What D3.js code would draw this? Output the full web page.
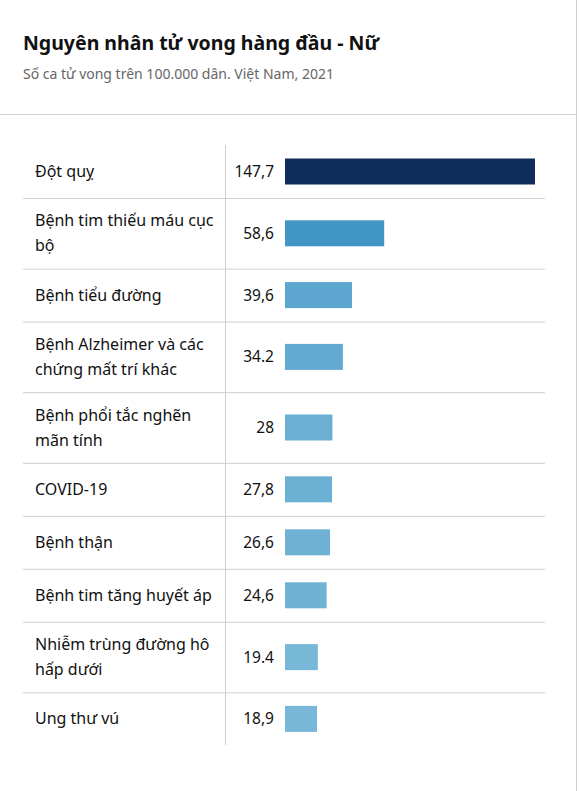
<!DOCTYPE html>
<html>
<head>
<meta charset="utf-8">
<script src="https://cdn.jsdelivr.net/npm/d3@7"></script>
<style>
  body { margin: 0; background: #fff; font-family: "Noto Sans", sans-serif; }
  svg { display: block; }
</style>
</head>
<body>
<svg id="chart" width="580" height="791"></svg>
<script>
// data
var causes = [
    "Đột quỵ",
    "Bệnh tim thiếu máu cục bộ",
    "Bệnh tiểu đường",
    "Bệnh Alzheimer và các chứng mất trí khác",
    "Bệnh phổi tắc nghẽn mãn tính",
    "COVID-19",
    "Bệnh thận",
    "Bệnh tim tăng huyết áp",
    "Nhiễm trùng đường hô hấp dưới",
    "Ung thư vú"
]
var rates = [147.7, 58.6, 39.6, 34.2, 28, 27.8, 26.6, 24.6, 19.4, 18.9]
// labels as printed (mixed decimal marks in the original)
var rateLabels = ["147,7", "58,6", "39,6", "34.2", "28", "27,8", "26,6", "24,6", "19.4", "18,9"]

var title = "Nguyên nhân tử vong hàng đầu - Nữ"
var subtitle = "Số ca tử vong trên 100.000 dân. Việt Nam, 2021"

var svg = d3.select("#chart")

// header
svg.append("text")
    .attr("x", 23).attr("y", 50)
    .attr("font-size", 19.5).attr("font-weight", 700)
    .attr("fill", "#111")
    .text(title)
svg.append("text")
    .attr("x", 23).attr("y", 79)
    .attr("font-size", 14)
    .attr("fill", "#666")
    .text(subtitle)

svg.append("line")
    .attr("x1", 0).attr("x2", 576)
    .attr("y1", 114.5).attr("y2", 114.5)
    .attr("stroke", "#d0d0d0")
svg.append("line")
    .attr("x1", 576.5).attr("x2", 576.5)
    .attr("y1", 0).attr("y2", 791)
    .attr("stroke", "#d0d0d0")

var tableLeft = 23, tableRight = 545, divX = 225.5
var labelX = 35, wrapW = 186, lineH = 25, pad = 14
var tableTop = 145

// wrap labels first, row heights follow the line count
var meas = svg.append("text").attr("font-size", 16).attr("visibility", "hidden")
var rows = causes.map((c, i) => {
    var words = c.split(" "), lines = [], cur = ""
    words.forEach(w => {
        var test = cur ? cur + " " + w : w
        meas.text(test)
        if (meas.node().getComputedTextLength() > wrapW && cur) {
            lines.push(cur)
            cur = w
        } else {
            cur = test
        }
    })
    lines.push(cur)
    return { cause: c, value: rates[i], label: rateLabels[i], lines: lines }
})
meas.remove()

var y0 = tableTop
rows.forEach(r => {
    r.h = r.lines.length > 1 ? 70.6 : 53
    r.y = y0
    y0 += r.h
})
var tableBottom = y0

var x = d3.scaleLinear()
    .domain([0, d3.max(rates)])
    .range([285, 535])

var color = d3.scaleLinear()
    .domain([d3.min(rates), 58.6, d3.max(rates)])
    .range(["#78b7d8", "#4296c6", "#0f2d5b"])

var g = svg.selectAll(".row")
    .data(rows)
    .enter()
    .append("g")
    .attr("class", "row")
    .attr("transform", d => "translate(0," + d.y + ")")

// row dividers
g.filter((d, i) => i > 0)
    .append("line")
    .attr("x1", tableLeft).attr("x2", tableRight)
    .attr("y1", 0.5).attr("y2", 0.5)
    .attr("stroke", "#d0d0d0")

g.append("text")
    .attr("font-size", 16)
    .attr("fill", "#111")
    .selectAll("tspan")
    .data(d => d.lines.map((l, k) => ({ l: l, k: k, n: d.lines.length, h: d.h })))
    .enter()
    .append("tspan")
    .attr("x", labelX)
    .attr("y", d => d.h / 2 + (d.k - (d.n - 1) / 2) * lineH)
    .attr("dy", "0.35em")
    .text(d => d.l)

g.append("text")
    .attr("x", 274)
    .attr("y", d => d.h / 2)
    .attr("dy", "0.35em")
    .attr("text-anchor", "end")
    .attr("font-size", 15.5)
    .attr("fill", "#111")
    .text(d => d.label)

g.append("rect")
    .attr("x", x(0))
    .attr("y", d => d.h / 2 - 13)
    .attr("width", d => x(d.value) - x(0))
    .attr("height", 26)
    .attr("fill", d => color(d.value))

svg.append("line")
    .attr("x1", divX).attr("x2", divX)
    .attr("y1", tableTop).attr("y2", tableBottom)
    .attr("stroke", "#d0d0d0")
</script>
</body>
</html>
